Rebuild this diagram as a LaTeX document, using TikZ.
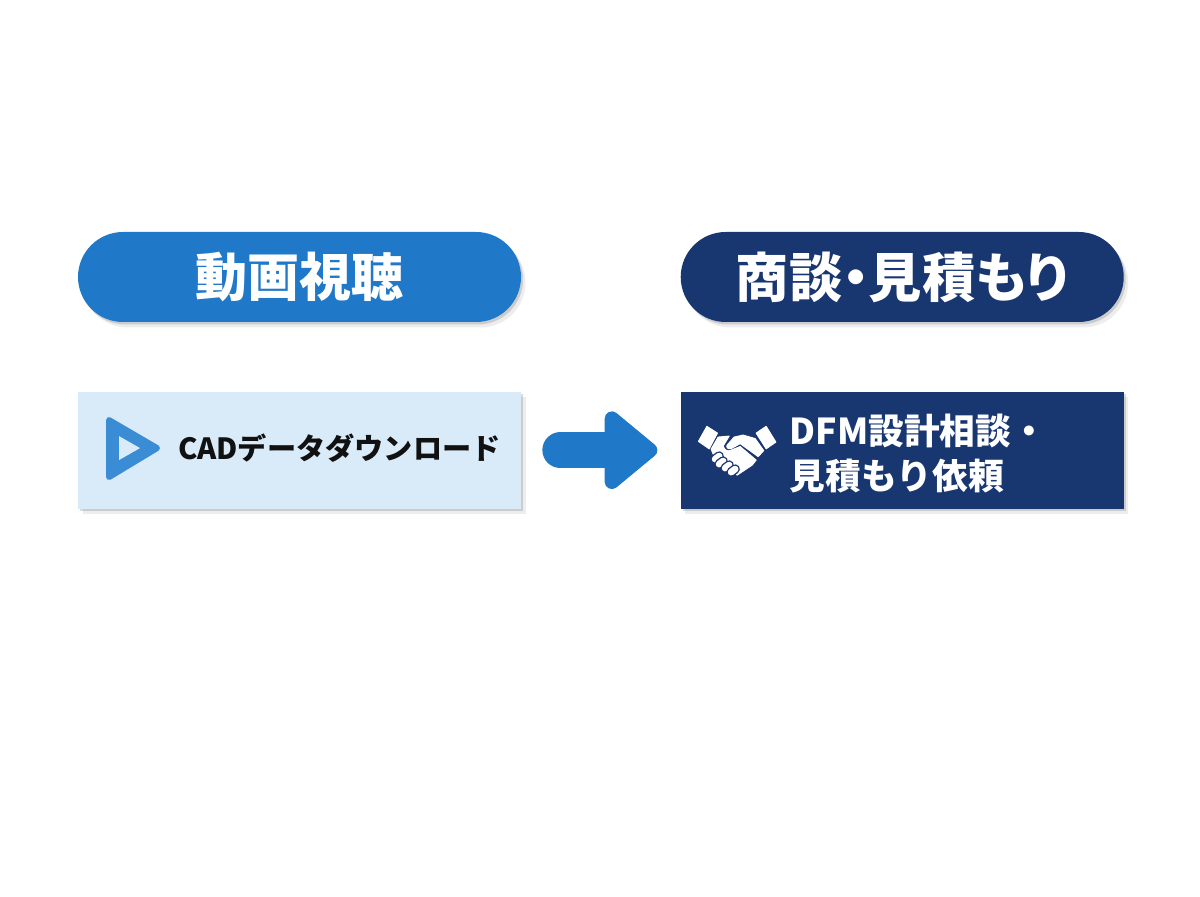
\documentclass[tikz,border=0pt]{standalone}
\usepackage{fontspec}
\usepackage{xcolor}
\usepackage{tikz}
\usetikzlibrary{arrows.meta, positioning, shadows}
\newfontfamily\cjk{Noto Sans CJK JP}
\newfontfamily\cjkp{Noto Sans CJK JP}[RawFeature=+palt]
\definecolor{myblue}{RGB}{31,120,200}
\definecolor{mynavy}{RGB}{24,54,112}
\definecolor{mypale}{RGB}{217,234,248}
\definecolor{myicon}{RGB}{58,140,212}
\definecolor{myink}{RGB}{17,17,17}
\tikzset{
  softshadow/.style={
    drop shadow={shadow xshift=0.09cm, shadow yshift=-0.11cm, fill=black, opacity=0.07},
    drop shadow={shadow xshift=0.04cm, shadow yshift=-0.05cm, fill=black, opacity=0.14}},
  pill/.style={rectangle, rounded corners=0.9cm, minimum width=8.86cm, minimum height=1.8cm,
    text=white, softshadow},
  box/.style={rectangle, minimum width=8.86cm, minimum height=2.34cm, softshadow},
  label/.style={inner sep=0pt, align=left},
  flow/.style={-{Triangle[length=1.14cm, width=1.8cm, round, line width=0.44cm]}, myblue, line width=0.72cm, line cap=round},
  handpart/.style={fill=white, draw=white, line width=0.02cm, line join=round}
}
\begin{document}
\begin{tikzpicture}
  \useasboundingbox (0,0) rectangle (24,17.92);

  \node[pill, fill=myblue, font=\cjkp\bfseries\fontsize{29.6}{34}\selectfont] (watch) at (5.99,12.38) {動画視聴};
  \node[pill, fill=mynavy, font=\cjkp\bfseries\fontsize{30.3}{34}\selectfont, right=3.18cm of watch] (deal) {商談・見積もり};
  \node[box, fill=mypale, below=1.38cm of watch] (cadbox) {};
  \node[box, fill=mynavy, below=1.38cm of deal] (dfmbox) {};

  \node[label, text=myink, font=\cjk\bfseries\fontsize{16.6}{20}\selectfont, right=2cm of cadbox.west, yshift=0.04cm] (cadtext) {CADデータダウンロード};
  \node[label, text=white, font=\cjk\bfseries\fontsize{20.3}{25.6}\selectfont, right=2.18cm of dfmbox.west, yshift=-0.07cm] (dfmtext) {DFM設計相談・\\見積もり依頼};

  % Connection
  \draw[flow, shorten <=0.78cm, shorten >=0.46cm] (cadbox) -- (dfmbox);

  % Play icon
  \begin{scope}[x=0.02cm, y=-0.02cm, yshift=17.92cm]
    \fill[myicon, draw=myicon, line width=0.12cm, line join=round] (109,420) -- (157,448) -- (109,477) -- cycle;
    \fill[mypale] (119,436) -- (140,448) -- (119,460) -- cycle;
  \end{scope}

  % Handshake icon
  \begin{scope}[x=0.02cm, y=-0.02cm, yshift=17.92cm]
    \path[handpart] (698.3,441.3) -- (706.7,426.3) -- (717.3,433) -- (709,448.7) -- cycle;
    \path[handpart] (756,433) -- (766,426.3) -- (775.7,442) -- (766,448.7) -- cycle;
    \path[handpart] (711,449) -- (718,437) -- (729,436) -- (723,446) .. controls (724,450) and (728,452) .. (731,450) -- (740,446.5) -- (756,460) -- (752,465) -- (737,475) -- (730,470) -- (713,454) -- cycle;
    \path[handpart] (734,437) -- (743,435) -- (755,438.5) -- (763.5,450.5) -- (758,456.5) -- (740,443.5) -- (731,448.5) .. controls (728,449.5) and (725.5,447) .. (727,445) -- cycle;
    \foreach \fx/\fy in {715/459, 719/464, 725/468, 731/472} {
      \draw[mynavy, line width=0.19cm, line cap=round] (\fx,\fy) -- ++(4,-3);
      \draw[white, line width=0.135cm, line cap=round] (\fx,\fy) -- ++(4,-3);
    }
  \end{scope}
\end{tikzpicture}
\end{document}
